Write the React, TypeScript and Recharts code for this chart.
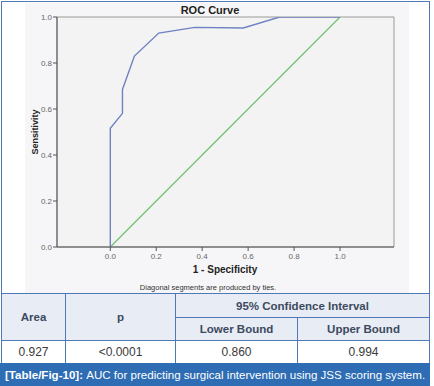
import React from 'react';
import { LineChart, Line, XAxis, YAxis, ReferenceArea } from 'recharts';

const rocFpr = [0, 0, 0.053, 0.053, 0.105, 0.211, 0.368, 0.579, 0.737, 1];
const rocTpr = [0, 0.516, 0.581, 0.685, 0.83, 0.93, 0.955, 0.952, 1, 1];
const refFpr = [0, 1];
const refTpr = [0, 1];
const axisTicks = [0, 0.2, 0.4, 0.6, 0.8, 1.0];

const tableHeaders = ['Area', 'p', '95% Confidence Interval', 'Lower Bound', 'Upper Bound'];
const tableValues = ['0.927', '<0.0001', '0.860', '0.994'];

const rocData = rocFpr.map((x, i) => ({ x, y: rocTpr[i] }));
const refData = refFpr.map((x, i) => ({ x, y: refTpr[i] }));

const X_MIN = -0.232;
const X_MAX = 1.235;
const font = '"Liberation Sans", Arial, sans-serif';
const blue = '#4f78b6';
const headBg = '#e8ecf4';

const cell = (l: number, t: number, w: number, h: number, bg: string): React.CSSProperties => ({
  position: 'absolute', left: l, top: t, width: w, height: h, background: bg,
  display: 'flex', alignItems: 'center', justifyContent: 'center', boxSizing: 'border-box',
  fontSize: 12, color: '#3a3a3a',
});

const head: React.CSSProperties = { fontWeight: 'bold', color: '#3c4a60', fontSize: 11.5 };

export default function App() {
  return (
    <div style={{ position: 'absolute', left: 0, top: 0, width: 434, height: 386, background: '#fff', fontFamily: font, overflow: 'hidden' }}>
      {/* chart panel background */}
      <div style={{ position: 'absolute', left: 25, top: 3, width: 384, height: 290, background: '#f6f6f8' }} />
      <div style={{ position: 'absolute', left: 0, top: 0 }}>
        <LineChart width={434} height={293} margin={{ top: 17, right: 40, bottom: 16, left: 0 }}>
          <XAxis
            type="number"
            dataKey="x"
            domain={[X_MIN, X_MAX]}
            ticks={axisTicks}
            allowDataOverflow
            tickFormatter={(v: number) => v.toFixed(1)}
            tick={{ fontSize: 8, fill: '#666', fontFamily: font }}
            tickSize={4}
            tickMargin={2}
            height={30}
            stroke="#555"
          />
          <YAxis
            type="number"
            dataKey="y"
            domain={[0, 1]}
            ticks={axisTicks}
            allowDataOverflow
            tickFormatter={(v: number) => v.toFixed(1)}
            tick={{ fontSize: 8, fill: '#666', fontFamily: font }}
            tickSize={4}
            tickMargin={1}
            width={57}
            stroke="#555"
          />
          <ReferenceArea x1={X_MIN} x2={X_MAX} y1={0} y2={1} fill="#f3f3f3" fillOpacity={1} stroke="#9a9a9a" strokeWidth={1} />
          <Line data={refData} dataKey="y" type="linear" stroke="#6cc06a" strokeWidth={1.2} dot={false} isAnimationActive={false} />
          <Line data={rocData} dataKey="y" type="linear" stroke="#6f82c2" strokeWidth={1.4} dot={false} isAnimationActive={false} />
        </LineChart>
      </div>
      {/* chart texts */}
      <div style={{ position: 'absolute', left: 160, top: 4, width: 100, textAlign: 'center', fontSize: 11, fontWeight: 'bold', color: '#222' }}>ROC Curve</div>
      <div style={{ position: 'absolute', left: 35, top: 131.5, transform: 'translate(-50%, -50%) rotate(-90deg)', fontSize: 9, fontWeight: 'bold', color: '#222', whiteSpace: 'nowrap' }}>Sensitivity</div>
      <div style={{ position: 'absolute', left: 165, top: 264, width: 120, textAlign: 'center', fontSize: 10, fontWeight: 'bold', color: '#222' }}>1 - Specificity</div>
      <div style={{ position: 'absolute', left: 108, top: 283, width: 200, textAlign: 'center', fontSize: 7.5, color: '#333' }}>Diagonal segments are produced by ties.</div>

      {/* outer frame */}
      <div style={{ position: 'absolute', left: 1, top: 1, width: 429, height: 362, border: `1.5px solid ${blue}`, borderBottom: 'none', boxSizing: 'border-box' }} />

      {/* table */}
      <div style={{ ...cell(1, 293, 64, 47, headBg), ...head, borderTop: `1.5px solid ${blue}`, borderLeft: `1.5px solid ${blue}` }}>{tableHeaders[0]}</div>
      <div style={{ ...cell(65, 293, 110, 47, headBg), ...head, borderTop: `1.5px solid ${blue}`, borderLeft: `1px solid ${blue}` }}>{tableHeaders[1]}</div>
      <div style={{ ...cell(175, 293, 255, 24, headBg), ...head, borderTop: `1.5px solid ${blue}`, borderLeft: `1px solid ${blue}`, borderRight: `1.5px solid ${blue}` }}>{tableHeaders[2]}</div>
      <div style={{ ...cell(175, 317, 122, 23, headBg), ...head, borderTop: `1px solid ${blue}`, borderLeft: `1px solid ${blue}` }}>{tableHeaders[3]}</div>
      <div style={{ ...cell(297, 317, 133, 23, headBg), ...head, borderTop: `1px solid ${blue}`, borderLeft: `1px solid ${blue}`, borderRight: `1.5px solid ${blue}` }}>{tableHeaders[4]}</div>

      <div style={{ ...cell(1, 340, 64, 23, '#fff'), borderTop: `1px solid ${blue}`, borderLeft: `1.5px solid ${blue}` }}>{tableValues[0]}</div>
      <div style={{ ...cell(65, 340, 110, 23, '#fff'), borderTop: `1px solid ${blue}`, borderLeft: `1px solid ${blue}` }}>{tableValues[1]}</div>
      <div style={{ ...cell(175, 340, 122, 23, '#fff'), borderTop: `1px solid ${blue}`, borderLeft: `1px solid ${blue}` }}>{tableValues[2]}</div>
      <div style={{ ...cell(297, 340, 133, 23, '#fff'), borderTop: `1px solid ${blue}`, borderLeft: `1px solid ${blue}`, borderRight: `1.5px solid ${blue}` }}>{tableValues[3]}</div>

      {/* caption */}
      <div style={{ position: 'absolute', left: 0, top: 363, width: 430, height: 23, background: '#2e6db4', color: '#fff', fontSize: 11.55, display: 'flex', alignItems: 'center', paddingLeft: 5, boxSizing: 'border-box', whiteSpace: 'nowrap' }}>
        <span style={{ fontWeight: 'bold' }}>[Table/Fig-10]:</span>
        <span>&nbsp;AUC for predicting surgical intervention using JSS scoring system.</span>
      </div>
    </div>
  );
}
